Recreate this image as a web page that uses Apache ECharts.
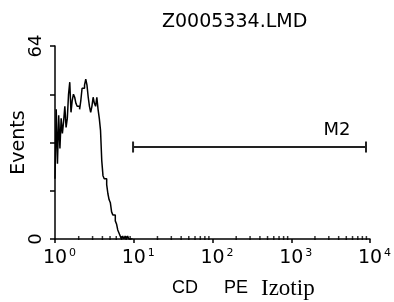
<!DOCTYPE html>
<html>
<head>
<meta charset="utf-8">
<script src="https://cdn.jsdelivr.net/npm/echarts@6/dist/echarts.min.js"></script>
<style>
  html, body { margin: 0; padding: 0; background: #fff; }
  #chart { width: 394px; height: 302px; }
</style>
</head>
<body>
<div id="chart"></div>
<script>
// histogram counts, one per channel (64 channels per decade)
var counts = [20, 43, 25, 41, 30, 40, 35, 39, 44, 37, 40, 48, 52, 42, 46, 48, 47, 45, 44, 44,
              43, 46, 50, 50, 51, 53, 51, 47, 44, 42, 44, 47, 45, 44, 47, 43, 40, 36, 26, 21,
              20, 20, 18, 15, 13, 12, 9, 8, 8, 6, 5, 3, 2, 1, 0, 1, 0, 1, 0, 1, 0, 0, 0, 0];
var channelsPerDecade = 64;
var decadeExps = [0, 1, 2, 3, 4];
var minorSteps = [2, 3, 4, 5, 6, 7, 8, 9];
var yTicks = [0, 16, 32, 48, 64];
var marker = { name: 'M2', from: 9.8, to: 8900, level: 30.5 };

var histData = counts.map(function (c, i) {
    return [Math.pow(10, i / channelsPerDecade), c];
});

var minorData = [];
for (var d = 0; d < decadeExps.length - 1; d++) {
    minorSteps.forEach(function (m) {
        minorData.push([m * Math.pow(10, decadeExps[d]), 0]);
    });
}

var font = 'DejaVu Sans';
var sans = 'Liberation Sans';
var myChart = echarts.init(document.getElementById('chart'));
var option = {
    backgroundColor: '#fff',
    animation: false,
    title: {
        text: 'Z0005334.LMD',
        left: 157,
        top: 8,
        textStyle: { fontFamily: font, fontSize: 19, fontWeight: 'normal', color: '#000' }
    },
    grid: { left: 55, right: 24, top: 46, bottom: 63, containLabel: false, outerBoundsMode: 'none' },
    xAxis: {
        type: 'log',
        logBase: 10,
        min: 1,
        max: 10000,
        splitNumber: 4,
        splitLine: { show: false },
        axisLine: { lineStyle: { color: '#000', width: 1.5 } },
        axisTick: { show: true, length: 4, lineStyle: { color: '#000', width: 1.5 } },
        axisLabel: {
            margin: 9,
            padding: [0, 0, 0, 9],
            color: '#000',
            formatter: function (v) {
                return '{b|10}{s|' + Math.round(Math.log10(v)) + '}';
            },
            rich: {
                b: { fontFamily: font, fontSize: 19, lineHeight: 20, color: '#000' },
                s: { fontFamily: font, fontSize: 11, lineHeight: 16, color: '#000', verticalAlign: 'top', padding: [0, 0, 0, 2] }
            }
        },
        name: '{cd|CD}{pe|PE}{iz|Izotip}',
        nameLocation: 'middle',
        nameMoveOverlap: false,
        nameGap: 38,
        nameTextStyle: {
            padding: [0, 0, 0, 66],
            rich: {
                cd: { fontFamily: sans, fontSize: 18, color: '#000', width: 52, align: 'left' },
                pe: { fontFamily: sans, fontSize: 18, color: '#000', width: 37, align: 'left' },
                iz: { fontFamily: 'Liberation Serif', fontSize: 23, color: '#000', width: 58, align: 'left' }
            }
        }
    },
    yAxis: {
        type: 'value',
        min: 0,
        max: 64,
        interval: 16,
        splitLine: { show: false },
        axisLine: { show: true, lineStyle: { color: '#000', width: 1.5 } },
        axisTick: { show: true, length: 5, lineStyle: { color: '#000', width: 1.5 } },
        axisLabel: {
            rotate: 90,
            margin: 10,
            color: '#000',
            fontFamily: font,
            fontSize: 18,
            formatter: function (v) {
                return (v === yTicks[0] || v === yTicks[yTicks.length - 1]) ? String(v) : '';
            }
        },
        name: 'Events',
        nameLocation: 'middle',
        nameMoveOverlap: false,
        nameRotate: 90,
        nameGap: 26,
        nameTextStyle: { fontFamily: font, fontSize: 19, color: '#000' }
    },
    series: [{
        type: 'line',
        step: 'end',
        data: histData,
        symbol: 'none',
        lineStyle: { color: '#000', width: 1.5 }
    }, {
        type: 'scatter',
        data: minorData,
        symbol: 'rect',
        symbolSize: [1.5, 4],
        symbolOffset: [0, -1],
        itemStyle: { color: '#000' },
        silent: true
    }, {
        type: 'line',
        data: [
            [marker.from, marker.level],
            {
                value: [marker.to, marker.level],
                label: {
                    show: true,
                    formatter: marker.name,
                    position: 'top',
                    offset: [-29, 3],
                    fontFamily: font,
                    fontSize: 18,
                    color: '#000'
                }
            }
        ],
        symbol: 'rect',
        symbolSize: [2, 11],
        showSymbol: true,
        itemStyle: { color: '#222' },
        lineStyle: { color: '#222', width: 2 }
    }]
};
myChart.setOption(option);
</script>
</body>
</html>
